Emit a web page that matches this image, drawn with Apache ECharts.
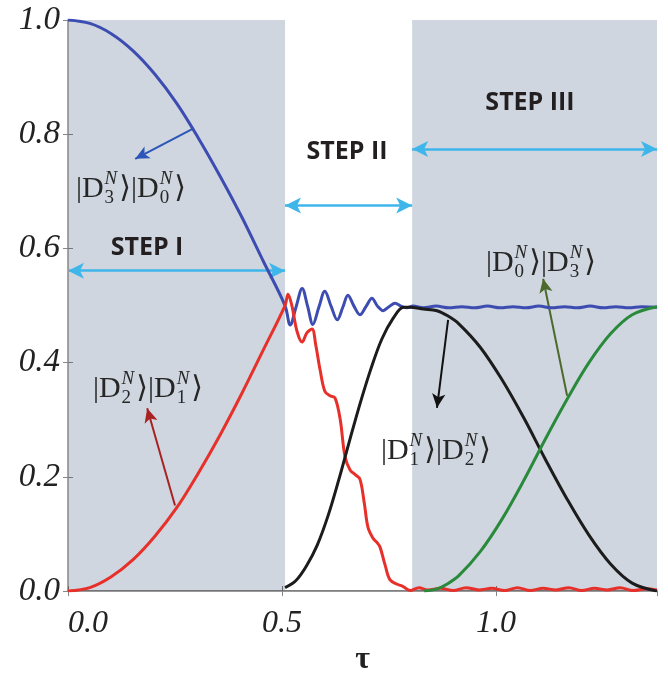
<!DOCTYPE html>
<html>
<head>
<meta charset="utf-8">
<script src="https://cdn.jsdelivr.net/npm/echarts@6/dist/echarts.min.js"></script>
<style>
	html, body { margin: 0; padding: 0; background: #fff; }
	#main { width: 668px; height: 681px; }
</style>
</head>
<body>
<div id="main"></div>
<script>
// populations vs tau
var blueCurve = [[0,1],[0.051,0.994],[0.101,0.976],[0.152,0.946],[0.203,0.905],[0.254,0.854],[0.304,0.794],[0.355,0.727],[0.406,0.655],[0.456,0.578],[0.507,0.5],
	[0.519,0.466],[0.533,0.498],[0.547,0.53],[0.56,0.498],[0.572,0.467],[0.586,0.497],[0.6,0.525],[0.615,0.498],[0.629,0.475],[0.642,0.497],[0.654,0.518],
	[0.668,0.499],[0.682,0.484],[0.696,0.498],[0.71,0.513],[0.723,0.499],[0.736,0.491],[0.75,0.498],[0.764,0.504],[0.778,0.499],[0.792,0.496],[0.806,0.499],
	[0.83,0.496],[0.86,0.499],[0.89,0.496],[0.92,0.498],[0.95,0.496],[0.98,0.499],[1.01,0.496],[1.04,0.498],[1.07,0.496],[1.1,0.499],[1.13,0.496],
	[1.16,0.498],[1.19,0.496],[1.22,0.499],[1.25,0.496],[1.28,0.498],[1.31,0.496],[1.34,0.498],[1.376,0.497]];
var redCurve = [[0,0],[0.051,0.006],[0.101,0.025],[0.152,0.055],[0.203,0.096],[0.254,0.146],[0.304,0.206],[0.355,0.273],[0.406,0.346],[0.456,0.422],[0.507,0.5],
	[0.514,0.52],[0.523,0.5],[0.535,0.455],[0.547,0.436],[0.558,0.452],[0.57,0.459],[0.579,0.43],[0.589,0.387],[0.6,0.35],[0.612,0.342],[0.624,0.338],
	[0.636,0.3],[0.647,0.236],[0.659,0.212],[0.671,0.204],[0.682,0.196],[0.692,0.155],[0.701,0.111],[0.713,0.092],[0.722,0.085],[0.729,0.077],
	[0.741,0.045],[0.752,0.02],[0.769,0.012],[0.783,0.008],[0.799,0.001],[0.82,0.006],[0.84,0.002],[0.87,0.005],[0.9,0.001],[0.93,0.006],[0.96,0.002],
	[0.99,0.005],[1.02,0.001],[1.05,0.006],[1.08,0.001],[1.11,0.005],[1.14,0.002],[1.17,0.006],[1.2,0.001],[1.23,0.005],[1.26,0.002],[1.29,0.006],
	[1.32,0.001],[1.35,0.004],[1.376,0.002]];
var blackCurve = [[0.507,0.006],[0.532,0.018],[0.557,0.044],[0.582,0.08],[0.608,0.133],[0.633,0.196],[0.658,0.264],[0.683,0.33],[0.708,0.39],[0.733,0.441],
	[0.759,0.477],[0.784,0.497],[0.799,0.497],[0.83,0.494],[0.862,0.491],[0.887,0.482],[0.913,0.468],[0.963,0.427],[1.014,0.37],[1.065,0.303],
	[1.115,0.231],[1.166,0.161],[1.217,0.098],[1.268,0.047],[1.318,0.014],[1.376,0]];
var greenCurve = [[0.832,0],[0.862,0.004],[0.887,0.013],[0.913,0.027],[0.963,0.069],[1.014,0.126],[1.065,0.194],[1.115,0.266],[1.166,0.336],
	[1.217,0.4],[1.268,0.451],[1.318,0.484],[1.376,0.498]];

var stepBounds = [0, 0.507, 0.804, 1.376];
var stepNames = ['STEP I', 'STEP II', 'STEP III'];
var stepArrowY = [0.561, 0.675, 0.774];

var myChart = echarts.init(document.getElementById('main'));

var ctx = document.createElement('canvas').getContext('2d');
function textWidth(t, font) {
	ctx.font = font;
	return ctx.measureText(t).width;
}

// |D_a^N>|D_b^N> built from pieces
function ket(cx, cy, a, b) {
	var mainFont = '30px "Liberation Serif", "DejaVu Serif", serif';
	var supFont = 'italic 19px "Liberation Serif", serif';
	var subFont = '19px "Liberation Serif", serif';
	var parts = [];
	var x = 0;
	[a, b].forEach(function(idx) {
		parts.push({ t: '|D', f: mainFont, x: x, dy: 0 });
		x += textWidth('|D', mainFont);
		parts.push({ t: 'N', f: supFont, x: x + 1, dy: -10 });
		parts.push({ t: String(idx), f: subFont, x: x + 1, dy: 9 });
		x += Math.max(textWidth('N', supFont), textWidth(String(idx), subFont)) + 3;
		parts.push({ t: '\u27E9', f: mainFont, x: x, dy: 0 });
		x += textWidth('\u27E9', mainFont);
	});
	var x0 = cx - x / 2;
	return parts.map(function(p) {
		return {
			type: 'text',
			x: x0 + p.x,
			y: cy + p.dy,
			z: 20,
			style: { text: p.t, font: p.f, fill: '#262626', textVerticalAlign: 'middle', verticalAlign: 'middle' }
		};
	});
}

function stepLabel(cx, cy, t) {
	return {
		type: 'text',
		x: cx,
		y: cy,
		z: 20,
		style: {
			text: t,
			font: 'bold 25px "Open Sans", sans-serif',
			fill: '#231f20',
			textAlign: 'center', align: 'center',
			textVerticalAlign: 'middle', verticalAlign: 'middle'
		}
	};
}

var pointers = [
	{ from: [0.29, 0.809], to: [0.157, 0.757], color: '#2c55b8' },
	{ from: [0.25, 0.15], to: [0.185, 0.32], color: '#a82222' },
	{ from: [0.888, 0.475], to: [0.862, 0.321], color: '#111111' },
	{ from: [1.166, 0.342], to: [1.11, 0.547], color: '#4b6a2c' }
];

var arrowLines = [];
for (var i = 0; i < 3; i++) {
	arrowLines.push([
		{ coord: [stepBounds[i], stepArrowY[i]], symbol: 'arrow', symbolSize: [12, 16], lineStyle: { color: '#3fb6ea', width: 2.5, type: 'solid' } },
		{ coord: [stepBounds[i + 1], stepArrowY[i]], symbol: 'arrow', symbolSize: [12, 16] }
	]);
}
pointers.forEach(function(p) {
	arrowLines.push([
		{ coord: p.from, symbol: 'none', lineStyle: { color: p.color, width: 2, type: 'solid' }, itemStyle: { color: p.color } },
		{ coord: p.to, symbol: 'arrow', symbolSize: [10, 14], itemStyle: { color: p.color } }
	]);
});

function curve(data, color) {
	return {
		type: 'line',
		data: data,
		smooth: 0.35,
		showSymbol: false,
		z: 10,
		silent: true,
		lineStyle: { color: color, width: 3 },
		itemStyle: { color: color }
	};
}

var graphics = [
	stepLabel(147, 248, stepNames[0]),
	stepLabel(347, 152, stepNames[1]),
	stepLabel(530, 103, stepNames[2])
].concat(ket(131, 189, 3, 0), ket(148, 389, 2, 1), ket(436, 451, 1, 2), ket(541, 263, 0, 3));

var option = {
	animation: false,
	grid: { left: 68, right: 11, top: 20, bottom: 76 },
	xAxis: [{
		type: 'value',
		min: 0, max: 1.376, interval: 0.5,
		z: 5,
		name: '\u03C4',
		nameLocation: 'middle',
		nameGap: 40,
		nameTextStyle: { fontFamily: 'Liberation Serif', fontWeight: 'bold', fontSize: 32, color: '#222' },
		axisLine: { onZero: false, lineStyle: { color: '#555', width: 1.5 } },
		axisTick: { inside: true, length: 5, lineStyle: { color: '#666' } },
		splitLine: { show: false },
		axisLabel: {
			showMaxLabel: false,
			alignMinLabel: 'left',
			margin: 16,
			fontFamily: 'Liberation Serif', fontStyle: 'italic', fontSize: 32, color: '#222',
			formatter: function(v) { return v.toFixed(1); }
		}
	}, {
		type: 'value', position: 'top',
		min: 0, max: 1.376, interval: 0.5,
		z: 5,
		axisLine: { show: true, lineStyle: { color: '#999', width: 1 } },
		axisTick: { inside: true, length: 5, lineStyle: { color: '#888' } },
		axisLabel: { show: false },
		splitLine: { show: false }
	}],
	yAxis: [{
		type: 'value',
		min: 0, max: 1, interval: 0.2,
		z: 5,
		axisLine: { show: true, onZero: false, lineStyle: { color: '#888', width: 1.5 } },
		axisTick: { show: true, inside: true, length: 5, lineStyle: { color: '#777' } },
		splitLine: { show: false },
		axisLabel: {
			margin: 8,
			fontFamily: 'Liberation Serif', fontStyle: 'italic', fontSize: 33, color: '#222',
			formatter: function(v) { return v.toFixed(1); }
		}
	}, {
		type: 'value', position: 'right',
		min: 0, max: 1, interval: 0.2,
		z: 5,
		axisLine: { show: true, lineStyle: { color: '#999', width: 1 } },
		axisTick: { show: true, inside: true, length: 5, lineStyle: { color: '#888' } },
		axisLabel: { show: false },
		splitLine: { show: false }
	}],
	series: [
		{
			type: 'line',
			data: [],
			z: 1,
			silent: true,
			markArea: {
				silent: true,
				itemStyle: { color: '#cfd6df' },
				data: [
					[{ xAxis: stepBounds[0] }, { xAxis: stepBounds[1] }],
					[{ xAxis: stepBounds[2] }, { xAxis: stepBounds[3] }]
				]
			}
		},
		curve(blueCurve, '#3d4cb0'),
		curve(redCurve, '#e8302b'),
		curve(blackCurve, '#1c1c1c'),
		curve(greenCurve, '#2a8a3c'),
		{
			type: 'line',
			data: [],
			z: 12,
			silent: true,
			markLine: {
				silent: true,
				animation: false,
				label: { show: false },
				emphasis: { disabled: true },
				data: arrowLines
			}
		}
	],
	graphic: graphics
};
myChart.setOption(option);
</script>
</body>
</html>
